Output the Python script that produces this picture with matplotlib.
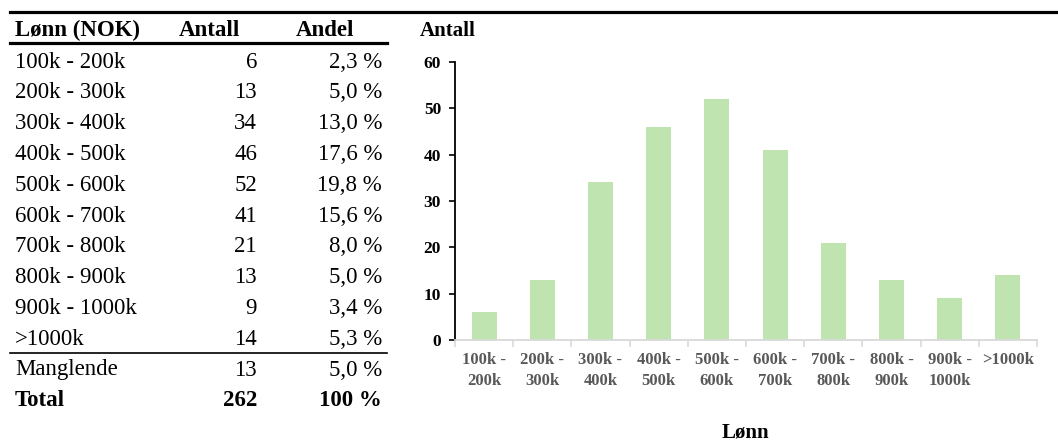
import matplotlib.pyplot as plt
from matplotlib.lines import Line2D

# data
kategorier = ['100k - 200k', '200k - 300k', '300k - 400k', '400k - 500k', '500k - 600k',
              '600k - 700k', '700k - 800k', '800k - 900k', '900k - 1000k', '>1000k']
antall = [6, 13, 34, 46, 52, 41, 21, 13, 9, 14]
andel = ['2,3 %', '5,0 %', '13,0 %', '17,6 %', '19,8 %', '15,6 %', '8,0 %', '5,0 %', '3,4 %', '5,3 %']
manglende = ('Manglende', 13, '5,0 %')
total = ('Total', 262, '100 %')
xlabels = ['100k -\n200k', '200k -\n300k', '300k -\n400k', '400k -\n500k', '500k -\n600k',
           '600k -\n700k', '700k -\n800k', '800k -\n900k', '900k -\n1000k', '>1000k']

W, H = 1058, 443
plt.rcParams['font.family'] = ['Liberation Serif', 'DejaVu Serif']
fig = plt.figure(figsize=(W/100, H/100), dpi=100)

def fx(px):
    return px / W

def fy(py):
    return 1 - py / H

# lines
fig.add_artist(Line2D([fx(10), fx(1058)], [fy(12), fy(12)], color='black', lw=2.3))
fig.add_artist(Line2D([fx(10), fx(387)], [fy(43), fy(43)], color='black', lw=2.3))
fig.add_artist(Line2D([fx(10), fx(387)], [fy(353), fy(353)], color='black', lw=1.2))

# table
fs = 16.5
fig.text(fx(15), fy(30), 'Lønn (NOK)', fontsize=fs, fontweight='bold', va='center', ha='left')
fig.text(fx(209), fy(30), 'Antall', fontsize=fs, fontweight='bold', va='center', ha='center')
fig.text(fx(325), fy(30), 'Andel', fontsize=fs, fontweight='bold', va='center', ha='center')

rows = list(zip(kategorier, antall, andel)) + [manglende]
for i, (k, a, p) in enumerate(rows):
    y = fy(62 + i * 30.8)
    fig.text(fx(15), y, k, fontsize=fs, va='center', ha='left')
    fig.text(fx(257), y, str(a), fontsize=fs, va='center', ha='right')
    fig.text(fx(382), y, p, fontsize=fs, va='center', ha='right')
y = fy(401)
fig.text(fx(15), y, total[0], fontsize=fs, fontweight='bold', va='center', ha='left')
fig.text(fx(257), y, str(total[1]), fontsize=fs, fontweight='bold', va='center', ha='right')
fig.text(fx(382), y, total[2], fontsize=fs, fontweight='bold', va='center', ha='right')

# chart
ax = fig.add_axes([fx(455), fy(340), fx(1037) - fx(455), fy(62) - fy(340)])
x = range(len(antall))
ax.bar(x, antall, width=0.43, color='#c0e4b0')
ax.set_xlim(-0.5, len(antall) - 0.5)
ax.set_ylim(0, 60)
ax.set_yticks([0, 10, 20, 30, 40, 50, 60])
ax.tick_params(axis='y', labelsize=12.5, length=4, width=1.2, pad=6)
for t in ax.get_yticklabels():
    t.set_fontweight('bold')
ax.set_xticks(list(x))
ax.set_xticklabels(xlabels, fontsize=12, fontweight='bold', color='#595959', linespacing=1.35)
ax.set_xticks([i + 0.5 for i in range(-1, len(antall))], minor=True)
ax.tick_params(axis='x', which='major', length=0, pad=9)
ax.tick_params(axis='x', which='minor', length=5, color='#d9d9d9', width=1.2)
for s in ['top', 'right']:
    ax.spines[s].set_visible(False)
ax.spines['left'].set_linewidth(1.3)
ax.spines['bottom'].set_color('#d9d9d9')
ax.spines['bottom'].set_linewidth(1.3)

fig.text(fx(420), fy(31), 'Antall', fontsize=15, fontweight='bold', va='center', ha='left')
fig.text(fx(745), fy(433), 'Lønn', fontsize=15, fontweight='bold', va='center', ha='center')

fig.savefig('out.png', dpi=100)
